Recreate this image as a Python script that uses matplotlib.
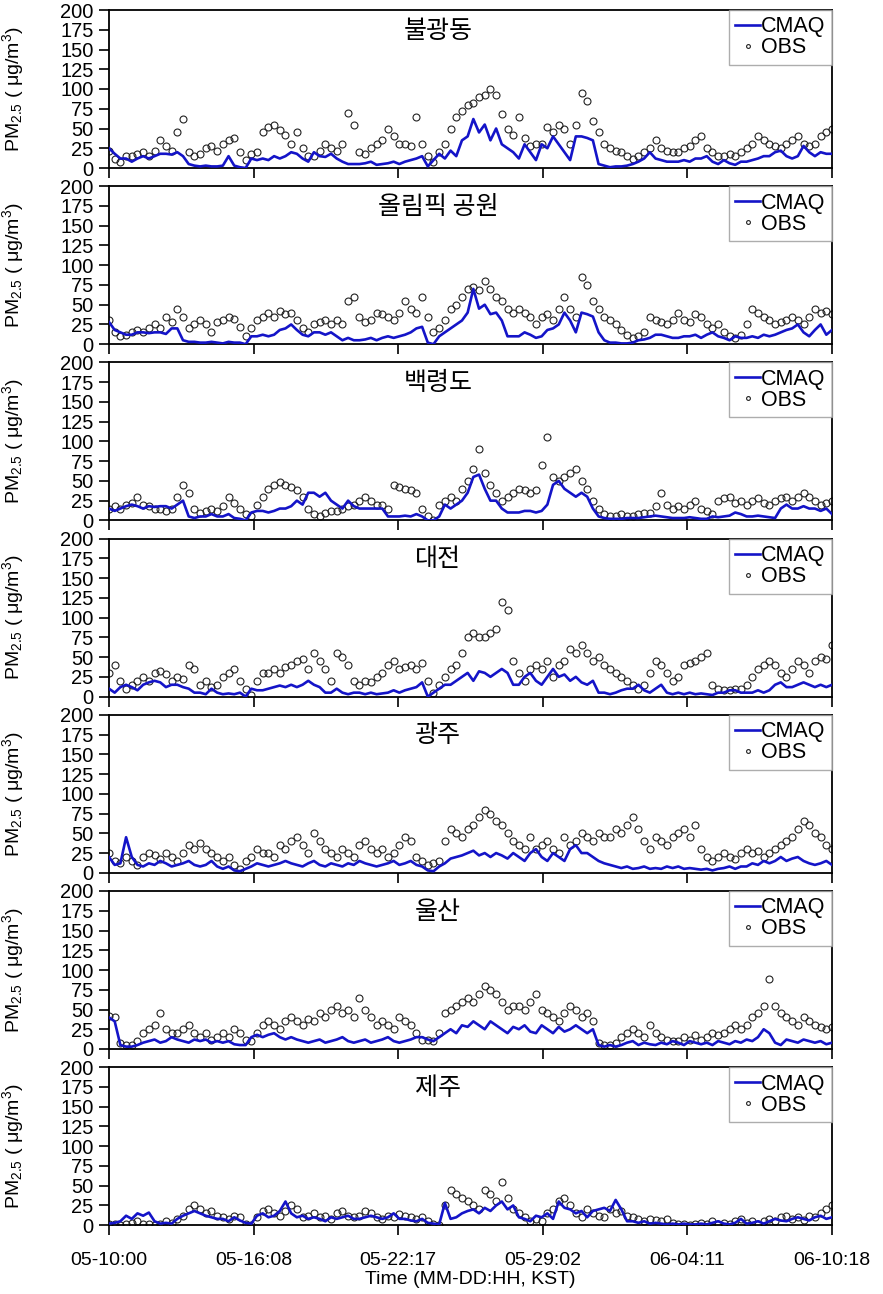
"""
PM2.5 time series, CMAQ vs OBS, seven stations
"""

import numpy as np
import matplotlib
matplotlib.use('Agg')
import matplotlib.pyplot as plt

plt.rcParams['font.family'] = ['Liberation Sans', 'Noto Sans CJK KR', 'DejaVu Sans']
plt.rcParams['mathtext.fontset'] = 'custom'
plt.rcParams['mathtext.rm'] = 'Liberation Sans'
plt.rcParams['mathtext.it'] = 'Liberation Sans'

# 6-hourly samples, 05-10 00h .. 06-10 18h
hours = np.arange(128) * 6

tick_hours = [0, 152.4, 304.8, 457.2, 609.6, 762]
tick_labels = ['05-10:00', '05-16:08', '05-22:17', '05-29:02', '06-04:11', '06-10:18']

stations = ['불광동', '올림픽 공원', '백령도', '대전', '광주', '울산', '제주']

obs_bulgwang = [
    22, 12, 8, 15, 15, 18, 20, 15, 22, 35, 28, 22, 45, 62, 20, 15,
    18, 25, 28, 22, 30, 35, 38, 20, 10, 18, 20, 45, 52, 55, 48, 42,
    30, 45, 25, 15, 15, 22, 30, 25, 22, 30, 70, 55, 20, 18, 25, 30,
    35, 50, 40, 30, 30, 28, 65, 30, 15, 8, 20, 30, 50, 65, 72, 80,
    82, 90, 92, 100, 92, 68, 50, 42, 65, 38, 28, 30, 30, 52, 45, 55,
    50, 30, 55, 95, 85, 60, 45, 30, 25, 22, 20, 15, 12, 15, 20, 25,
    35, 25, 22, 20, 20, 25, 28, 35, 40, 25, 20, 15, 15, 18, 15, 20,
    25, 30, 40, 35, 30, 28, 25, 30, 35, 40, 30, 28, 30, 40, 45, 50,
]
cmaq_bulgwang = [
    25, 18, 12, 12, 8, 12, 15, 12, 15, 18, 18, 17, 20, 15, 5, 3,
    2, 3, 2, 2, 3, 15, 3, 1, 0, 12, 10, 12, 10, 15, 12, 15,
    20, 18, 12, 8, 20, 15, 14, 18, 12, 8, 5, 5, 5, 6, 8, 4,
    5, 6, 8, 5, 8, 10, 12, 15, 2, 10, 18, 12, 22, 15, 35, 40,
    62, 45, 55, 35, 50, 30, 25, 20, 12, 30, 20, 10, 30, 25, 40, 30,
    20, 10, 40, 40, 38, 35, 5, 3, 1, 2, 2, 3, 5, 8, 12, 20,
    12, 10, 8, 8, 8, 10, 8, 12, 12, 15, 8, 5, 10, 6, 4, 8,
    8, 10, 12, 15, 15, 20, 22, 15, 12, 15, 28, 20, 15, 20, 18, 18,
]

obs_olympic = [
    30, 15, 10, 12, 15, 18, 15, 20, 25, 20, 35, 28, 45, 35, 20, 25,
    30, 25, 15, 28, 30, 35, 32, 22, 10, 20, 30, 35, 40, 35, 42, 38,
    40, 30, 20, 15, 25, 28, 30, 25, 30, 25, 55, 60, 35, 28, 30, 40,
    38, 35, 30, 40, 55, 45, 40, 60, 35, 15, 20, 30, 45, 50, 60, 70,
    72, 68, 80, 70, 60, 55, 45, 40, 45, 40, 35, 25, 35, 38, 30, 45,
    60, 45, 35, 85, 75, 55, 45, 35, 30, 25, 18, 12, 8, 10, 15, 35,
    30, 28, 25, 30, 40, 30, 28, 38, 35, 25, 20, 25, 15, 10, 8, 12,
    25, 45, 40, 35, 30, 25, 28, 30, 35, 30, 25, 35, 45, 40, 42, 38,
]
cmaq_olympic = [
    28, 18, 15, 12, 12, 15, 15, 14, 15, 15, 13, 20, 20, 5, 3, 3,
    2, 2, 3, 2, 1, 3, 2, 2, 0, 10, 10, 12, 10, 12, 18, 20,
    25, 18, 12, 10, 15, 15, 12, 15, 10, 5, 8, 5, 5, 6, 8, 5,
    8, 10, 8, 10, 12, 15, 20, 22, 2, 0, 10, 15, 20, 25, 30, 40,
    70, 45, 50, 38, 40, 30, 10, 10, 10, 15, 12, 8, 10, 18, 20, 25,
    40, 30, 15, 40, 38, 35, 15, 5, 2, 2, 1, 1, 2, 5, 6, 8,
    12, 12, 10, 8, 8, 10, 10, 12, 8, 12, 15, 10, 8, 5, 10, 8,
    8, 10, 8, 12, 10, 12, 15, 18, 20, 25, 15, 10, 18, 25, 12, 18,
]

obs_baengnyeong = [
    15, 18, 15, 20, 22, 30, 20, 18, 15, 15, 12, 15, 30, 45, 35, 15,
    10, 12, 15, 12, 18, 30, 22, 15, 8, 5, 20, 30, 40, 45, 48, 45,
    42, 38, 30, 15, 8, 5, 10, 12, 12, 15, 18, 20, 25, 30, 25, 20,
    20, 15, 45, 42, 40, 38, 35, 15, 5, 0, 20, 25, 30, 25, 40, 50,
    65, 90, 60, 45, 35, 25, 30, 35, 40, 38, 35, 38, 70, 105, 55, 50,
    55, 60, 65, 50, 40, 25, 15, 8, 5, 5, 8, 5, 5, 8, 10, 10,
    18, 35, 20, 15, 18, 15, 20, 25, 15, 12, 8, 25, 28, 30, 22, 25,
    20, 25, 28, 22, 20, 25, 28, 30, 25, 30, 35, 30, 25, 20, 22, 25,
]
cmaq_baengnyeong = [
    15, 12, 15, 18, 20, 18, 15, 18, 17, 18, 18, 15, 20, 25, 5, 3,
    5, 5, 8, 5, 5, 8, 3, 2, 0, 10, 12, 12, 10, 12, 15, 15,
    18, 25, 20, 35, 35, 30, 35, 25, 20, 15, 25, 18, 15, 15, 15, 15,
    15, 5, 5, 5, 6, 5, 8, 5, 0, 0, 5, 20, 15, 20, 25, 35,
    55, 58, 40, 25, 25, 15, 10, 10, 10, 12, 12, 10, 12, 20, 45, 50,
    40, 35, 30, 35, 30, 15, 5, 3, 2, 2, 2, 3, 3, 3, 4, 5,
    6, 5, 4, 3, 3, 3, 4, 3, 2, 2, 5, 4, 5, 6, 10, 8,
    5, 5, 6, 5, 4, 3, 15, 20, 15, 15, 18, 15, 15, 12, 15, 8,
]

obs_daejeon = [
    30, 40, 20, 10, 15, 20, 25, 20, 30, 32, 28, 20, 25, 22, 40, 35,
    15, 20, 12, 15, 25, 30, 35, 20, 10, 2, 20, 30, 30, 35, 30, 38,
    40, 45, 48, 35, 55, 45, 35, 20, 55, 50, 40, 20, 15, 20, 18, 25,
    30, 40, 45, 35, 38, 40, 35, 42, 20, 5, 15, 25, 35, 40, 55, 75,
    80, 75, 75, 80, 85, 120, 110, 45, 30, 20, 35, 40, 35, 45, 25, 40,
    45, 60, 55, 65, 55, 45, 50, 40, 35, 30, 25, 20, 15, 10, 15, 30,
    45, 40, 30, 20, 25, 40, 42, 45, 50, 55, 15, 10, 8, 8, 10, 10,
    15, 25, 35, 40, 45, 40, 30, 25, 35, 45, 40, 30, 45, 50, 48, 65,
]
cmaq_daejeon = [
    10, 5, 12, 15, 12, 8, 15, 18, 20, 18, 12, 15, 15, 12, 10, 5,
    5, 3, 10, 5, 3, 4, 3, 5, 0, 10, 8, 8, 10, 12, 14, 12,
    15, 12, 15, 20, 15, 12, 5, 5, 10, 5, 3, 5, 5, 3, 5, 3,
    4, 5, 8, 5, 8, 10, 12, 18, 0, 5, 10, 15, 15, 20, 25, 30,
    20, 32, 30, 25, 30, 35, 30, 15, 15, 25, 30, 20, 15, 25, 35, 25,
    28, 20, 25, 18, 15, 20, 5, 5, 3, 5, 8, 10, 10, 15, 8, 5,
    10, 15, 5, 3, 5, 3, 5, 3, 4, 3, 2, 5, 5, 8, 8, 5,
    5, 5, 8, 5, 8, 15, 18, 12, 12, 15, 18, 15, 12, 15, 12, 15,
]

obs_gwangju = [
    25, 15, 12, 20, 15, 10, 20, 25, 22, 18, 25, 20, 15, 25, 35, 30,
    38, 30, 25, 20, 15, 20, 10, 5, 15, 20, 30, 25, 25, 20, 35, 30,
    40, 45, 35, 25, 50, 40, 30, 25, 20, 30, 25, 20, 35, 40, 30, 25,
    30, 20, 25, 35, 45, 40, 20, 15, 10, 12, 15, 40, 55, 50, 45, 55,
    60, 70, 80, 75, 65, 60, 50, 40, 35, 30, 45, 30, 35, 40, 30, 25,
    45, 35, 40, 50, 45, 40, 50, 45, 45, 55, 50, 60, 70, 55, 40, 30,
    45, 40, 35, 45, 50, 55, 45, 60, 30, 20, 15, 20, 25, 20, 18, 25,
    30, 25, 28, 20, 25, 30, 35, 40, 45, 55, 65, 60, 50, 45, 35, 30,
]
cmaq_gwangju = [
    20, 10, 12, 45, 20, 10, 8, 12, 10, 15, 12, 8, 10, 12, 15, 10,
    8, 10, 15, 8, 5, 8, 3, 2, 5, 8, 12, 10, 8, 10, 12, 15,
    12, 10, 8, 12, 15, 10, 8, 12, 10, 8, 12, 10, 15, 12, 10, 8,
    10, 12, 15, 10, 12, 15, 10, 8, 3, 2, 8, 12, 18, 20, 22, 25,
    28, 22, 25, 20, 25, 22, 18, 25, 20, 15, 25, 30, 20, 15, 25, 20,
    15, 30, 35, 25, 25, 20, 15, 12, 10, 8, 6, 8, 5, 6, 8, 5,
    6, 5, 8, 6, 8, 5, 6, 5, 4, 5, 3, 5, 6, 8, 5, 8,
    8, 12, 10, 15, 12, 15, 20, 15, 18, 20, 15, 12, 10, 12, 15, 10,
]

obs_ulsan = [
    42, 40, 8, 5, 5, 10, 20, 25, 30, 45, 25, 20, 20, 25, 30, 20,
    15, 20, 12, 15, 20, 15, 25, 20, 12, 10, 20, 30, 35, 30, 25, 35,
    40, 35, 30, 38, 35, 45, 40, 50, 55, 45, 50, 40, 65, 50, 40, 30,
    35, 30, 25, 40, 35, 30, 20, 12, 12, 10, 20, 45, 50, 55, 60, 65,
    60, 70, 80, 75, 70, 60, 50, 55, 55, 50, 60, 70, 50, 45, 40, 35,
    45, 55, 50, 40, 45, 35, 8, 5, 5, 8, 15, 20, 25, 20, 15, 30,
    20, 15, 12, 10, 10, 15, 12, 18, 12, 15, 20, 18, 20, 25, 30, 25,
    30, 40, 45, 55, 88, 55, 45, 40, 35, 30, 40, 35, 30, 28, 25, 28,
]
cmaq_ulsan = [
    40, 35, 5, 3, 3, 5, 8, 10, 12, 8, 10, 15, 12, 10, 8, 12,
    10, 12, 8, 10, 8, 10, 6, 5, 5, 15, 18, 15, 18, 20, 15, 12,
    15, 12, 10, 8, 10, 12, 8, 10, 12, 15, 10, 8, 10, 12, 8, 10,
    12, 15, 10, 8, 10, 12, 15, 15, 12, 10, 15, 20, 25, 20, 30, 28,
    35, 30, 25, 35, 30, 25, 20, 28, 25, 30, 22, 20, 30, 25, 20, 28,
    22, 25, 30, 25, 20, 25, 5, 3, 5, 3, 5, 8, 10, 5, 8, 6,
    5, 8, 6, 10, 8, 5, 10, 8, 6, 8, 5, 10, 8, 6, 10, 8,
    12, 10, 15, 25, 20, 8, 5, 12, 10, 8, 12, 10, 8, 10, 6, 8,
]

obs_jeju = [
    2, 1, 0, 2, 3, 5, 2, 1, 0, 2, 5, 3, 8, 12, 20, 25,
    20, 15, 18, 12, 10, 8, 12, 10, 2, 0, 10, 18, 20, 15, 12, 18,
    25, 20, 10, 12, 15, 10, 12, 8, 15, 18, 12, 10, 12, 18, 15, 10,
    8, 12, 10, 14, 12, 10, 8, 10, 5, 2, 0, 25, 45, 40, 35, 30,
    25, 20, 45, 40, 30, 55, 35, 20, 15, 10, 5, 8, 5, 15, 20, 30,
    35, 25, 15, 10, 20, 15, 12, 10, 20, 15, 18, 12, 10, 8, 5, 8,
    6, 5, 8, 3, 1, 2, 0, 1, 3, 2, 5, 2, 3, 2, 5, 8,
    3, 5, 2, 5, 8, 5, 10, 12, 8, 10, 6, 12, 10, 15, 20, 25,
]
cmaq_jeju = [
    2, 3, 5, 12, 8, 15, 12, 16, 5, 2, 3, 2, 8, 12, 15, 18,
    15, 12, 10, 8, 8, 5, 10, 6, 3, 2, 12, 15, 10, 12, 18, 30,
    15, 10, 12, 8, 10, 8, 5, 10, 8, 10, 12, 8, 8, 10, 12, 10,
    8, 10, 15, 8, 8, 6, 5, 8, 3, 2, 1, 28, 8, 10, 15, 18,
    20, 15, 22, 18, 25, 30, 20, 25, 10, 8, 5, 12, 10, 15, 8, 30,
    22, 20, 15, 18, 10, 18, 20, 22, 18, 32, 20, 5, 5, 3, 5, 2,
    3, 2, 1, 2, 1, 2, 1, 1, 2, 1, 3, 5, 2, 1, 3, 8,
    2, 3, 5, 2, 5, 8, 6, 5, 8, 10, 8, 6, 10, 12, 8, 10,
]

obs_all = [obs_bulgwang, obs_olympic, obs_baengnyeong, obs_daejeon,
           obs_gwangju, obs_ulsan, obs_jeju]
cmaq_all = [cmaq_bulgwang, cmaq_olympic, cmaq_baengnyeong, cmaq_daejeon,
            cmaq_gwangju, cmaq_ulsan, cmaq_jeju]

W, H = 883, 1294
fig = plt.figure(figsize=(W / 100, H / 100), dpi=100)

left, right = 109, 832
panel_h = 158
panel_step = 176.2

for i, name in enumerate(stations):
    top = 10 + panel_step * i
    ax = fig.add_axes([left / W, 1 - (top + panel_h) / H,
                       (right - left) / W, panel_h / H])

    ax.plot(hours, cmaq_all[i], color='#1414c8', lw=1.9, label='CMAQ', zorder=3)
    ax.plot(hours, obs_all[i], ls='none', marker='o', ms=5, mfc='none',
            mec='#222222', mew=0.8, label='OBS', zorder=2)

    ax.set_xlim(0, 762)
    ax.set_ylim(0, 200)
    ax.set_yticks(np.arange(0, 201, 25))
    ax.set_xticks(tick_hours)
    if i == len(stations) - 1:
        ax.set_xticklabels(tick_labels, fontsize=14)
        ax.tick_params(axis='x', pad=12)
        ax.set_xlabel('Time (MM-DD:HH, KST)', fontsize=14, labelpad=2)
    else:
        ax.set_xticklabels([])
    ax.tick_params(direction='out', length=7, width=1.2)
    ax.tick_params(axis='y', labelsize=14.5, pad=4)
    for sp in ax.spines.values():
        sp.set_linewidth(1.3)

    ax.set_ylabel(r'PM$_{\mathrm{2.5}}$ ( μg/m$^{\mathrm{3}}$)', fontsize=14)
    ax.yaxis.set_label_coords(-0.115, 0.5)

    ax.text(0.455, 0.87, name, transform=ax.transAxes, ha='center',
            va='center', fontsize=18, family=['Noto Sans CJK KR', 'DejaVu Sans'])

    leg = ax.legend(loc='upper right', borderaxespad=0, fancybox=False,
                    fontsize=15.5, handlelength=1.15, handletextpad=0.05,
                    borderpad=0.3, labelspacing=0.0, markerscale=0.55)
    leg.get_frame().set_edgecolor('#999999')
    leg.get_frame().set_linewidth(1.0)

fig.savefig('out.png', dpi=100)
